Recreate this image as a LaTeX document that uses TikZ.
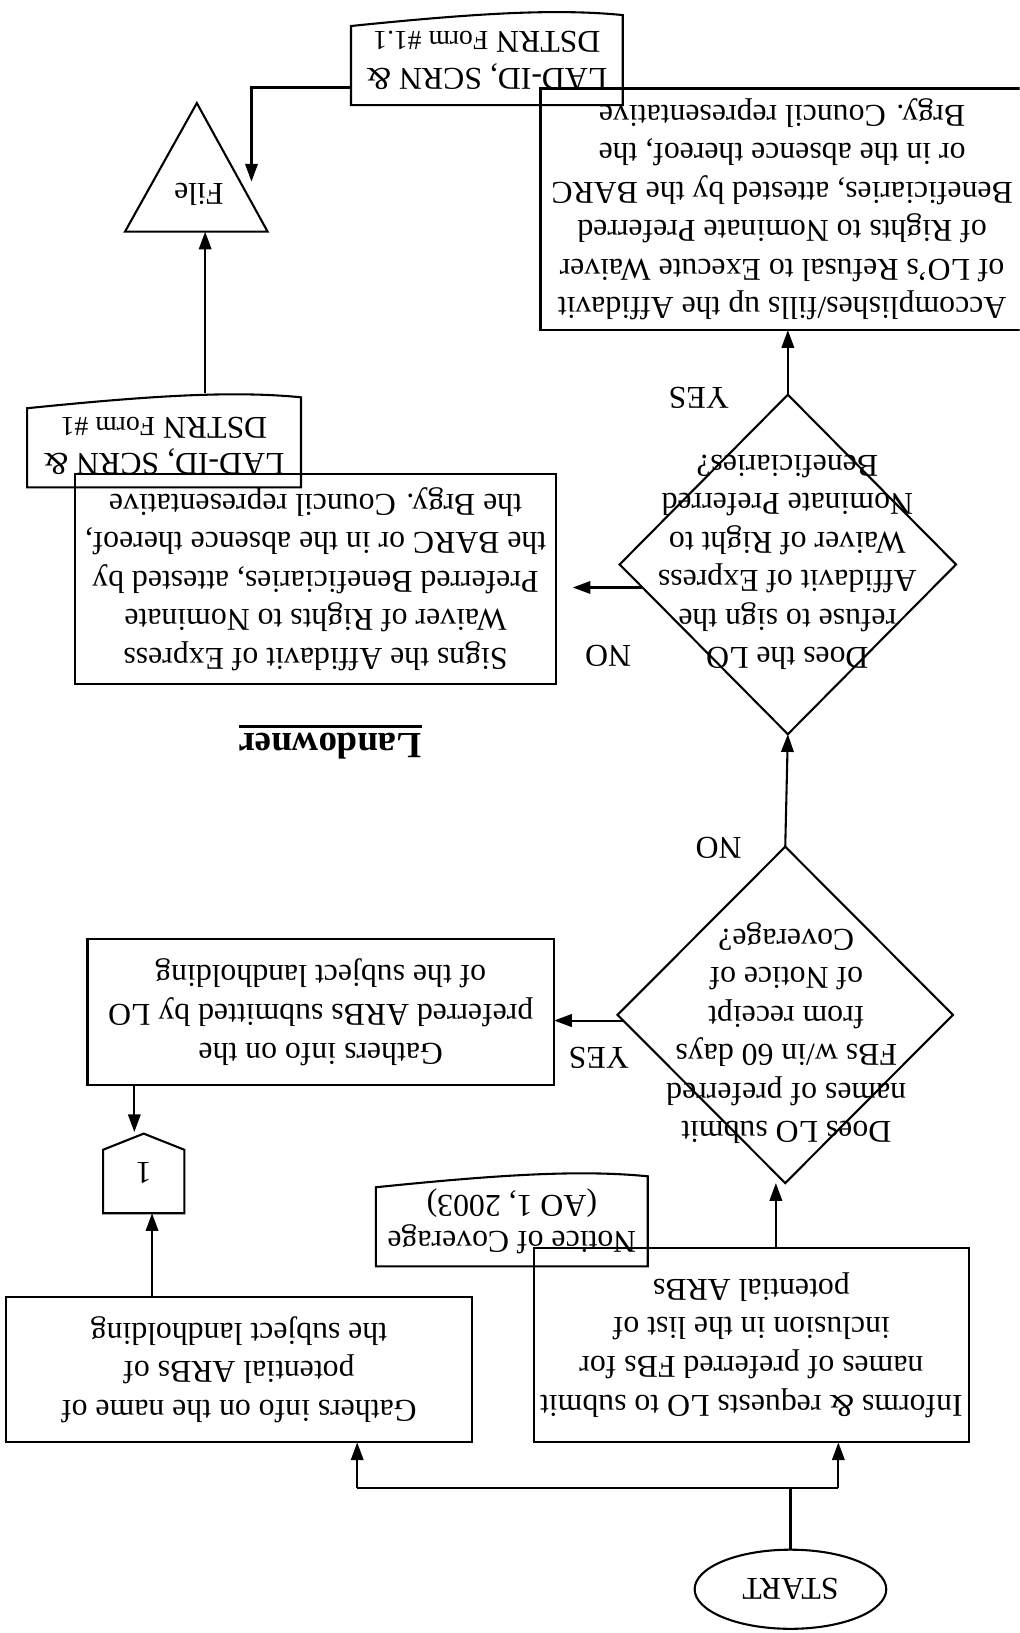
\documentclass[tikz,border=0pt]{standalone}
\usepackage{fontspec}
\setmainfont{Liberation Serif}
\usetikzlibrary{arrows.meta,calc,shapes.geometric}

% outline of a flowchart "document" symbol around a (borderless) node
\newcommand\docoutline[1]{%
  \draw (#1.north west) -- (#1.north east) -- ($(#1.north east)+(0,76)$)
    .. controls ($(#1.north west)!0.55!(#1.north east)+(0,88)$)
           and ($(#1.north west)!0.25!(#1.north east)+(0,93)$)
    .. ($(#1.north west)+(0,86.5)$) -- cycle;}

\begin{document}
\begin{tikzpicture}[x=1pt,y=-1pt,
  line width=2pt,
  every node/.style={inner sep=0pt, outer sep=0pt, align=center,
    font=\fontsize{30.5}{37}\selectfont},
  box/.style={draw, rectangle},
  decision/.style={draw, diamond},
  docnode/.style={rectangle, font=\fontsize{30.5}{35}\selectfont},
  arr/.style={-{Triangle[length=17pt,width=12pt]}},
]
% the chart is laid out upright and then turned upside down
\begin{scope}[rotate=180, transform shape]
\useasboundingbox (0,0) rectangle (979,1568);
\clip (0,0) rectangle (979,1568);

% ---- nodes ----
\node[draw, ellipse, minimum width=184pt, minimum height=76pt] (start) at (220,42) {START};

\node[box, minimum width=417pt, minimum height=187pt] (inform) at (257.5,276.5)
  {Informs \& requests LO to submit\\names of preferred FBs for\\inclusion in the list of\\potential ARBs};

\node[box, minimum width=447pt, minimum height=140pt] (gathname) at (749.5,253)
  {Gathers info on the name of\\potential ARBs of\\the subject landholding};

\node[docnode, minimum width=261pt, minimum height=87pt, anchor=north] (notice) at (487.5,352)
  {Notice of Coverage\\(AO 1, 2003)};

\node[decision, minimum width=322pt, minimum height=323pt] (d1) at (225,593.5) {};
\node (d1text) at (224,576)
  {Does LO submit\\names of preferred\\FBs w/in 60 days\\from receipt\\of Notice of\\Coverage?};

\node[box, minimum width=448pt, minimum height=140pt] (gathpref) at (671,596)
  {Gathers info on the\\preferred ARBs submitted by LO\\of the subject landholding};

\node[minimum width=78pt, minimum height=76.5pt] (conn) at (841,441.25) {1};

\node (yes1) at (404,552) {YES};
\node (no1) at (289,754) {NO};

\node[decision, minimum width=323pt, minimum height=326pt] (d2) at (222.5,1026) {};
\node (d2text) at (223,1028)
  {Does the LO\\refuse to sign the\\Affidavit of Express\\Waiver of Right to\\Nominate Preferred\\Beneficiaries?};

\node[box, minimum width=462pt, minimum height=202pt] (signs) at (676,1012)
  {Signs the Affidavit of Express\\Waiver of Rights to Nominate\\Preferred Beneficiaries, attested by\\the BARC or in the absence thereof,\\the Brgy. Council representative};

\node (no2) at (395,938) {NO};
\node (yes2) at (308,1186) {YES};

\node (landowner) at (662,852) {\fontsize{35.5}{37}\selectfont\bfseries Landowner};
\draw[line width=3pt] ($(landowner.base west)+(0,6.5)$) -- ($(landowner.base east)+(0,6.5)$);

\node[docnode, minimum width=263pt, minimum height=80pt, anchor=north] (lad1) at (821.5,1100)
  {LAD-ID, SCRN \&\\DSTRN {\fontsize{26.5}{35}\selectfont Form \#1}};

\node[box, minimum width=464pt, minimum height=232pt] (accomp) at (228,1367)
  {Accomplishes/fills up the Affidavit\\of LO’s Refusal to Execute Waiver\\of Rights to Nominate Preferred\\Beneficiaries, attested by the BARC\\or in the absence thereof, the\\Brgy. Council representative};

\node[docnode, minimum width=261pt, minimum height=86pt, anchor=north] (lad11) at (511.5,1467)
  {LAD-ID, SCRN \&\\DSTRN {\fontsize{26.5}{35}\selectfont Form \#1.1}};

% "File" triangle (apex down)
\coordinate (tl) at (722,1345.5);
\coordinate (tr) at (859,1345.5);
\coordinate (tapex) at (790,1469);
\draw (tl) -- (tr) -- (tapex) -- cycle;
\node (file) at (788,1381) {File};

% ---- outlines of documents and the off-page connector ----
\docoutline{notice}
\docoutline{lad1}
\docoutline{lad11}
\draw (conn.north west) -- (conn.north east) -- ($(conn.south east)+(0,-15.5)$)
  -- (conn.south) -- ($(conn.south west)+(0,-15.5)$) -- cycle;

% ---- connectors ----
\coordinate (jl) at (174,139);
\coordinate (jr) at (636,139);
\draw (start.south) -- (start.south |- jl);
\draw (jl) -- (jr);
\draw[arr] (jl) -- (jl |- inform.north);
\draw[arr] (jr) -- (jr |- gathname.north);

\draw[arr] ($(inform.south)+(-23.5,0)$) coordinate (aup) -- (aup |- d1.north);
\draw[arr] (d1.2) -- (d1.2 -| gathpref.west);
\draw[arr] ($(gathname.south)+(83.5,0)$) coordinate (bdn) -- (bdn |- conn.north);
\draw[arr] ($(gathpref.north)+(179,0)$) coordinate (cup) -- ($(cup |- conn.south)+(0,1.5)$);

\draw[arr] (d1.south) -- (d2.north);
\draw[arr, shorten >=16pt] (d2.9) -- (d2.9 -| signs.west);
\draw[arr] (d2.south) -- (d2.south |- accomp.north);

\draw[arr] ($(lad1.north)+(-39.5,90.5)$) coordinate (lup) -- (lup |- tl);
\coordinate (ftgt) at ($(tl)!0.39!(tapex)+(-11,0)$);
\draw[arr] ($(lad11.north east)+(0,17)$) -| (ftgt);
\end{scope}
\end{tikzpicture}
\end{document}
